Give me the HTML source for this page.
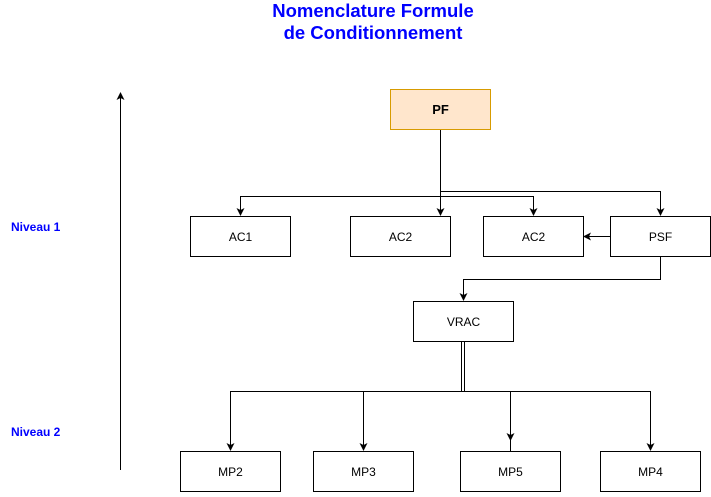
<!DOCTYPE html>
<html><head><style>body{margin:0;background:#fff}</style></head><body>
<svg width="711" height="492" xmlns="http://www.w3.org/2000/svg" font-family="Liberation Sans, sans-serif">
<defs><marker id="a" markerWidth="8" markerHeight="8" refX="7" refY="4" orient="auto" markerUnits="userSpaceOnUse"><path d="M0,0 L8,4 L0,8 L2,4 z" fill="#000"/></marker></defs>
<text x="373" y="17" text-anchor="middle" font-size="18.5" font-weight="bold" fill="#0000ff">Nomenclature Formule</text>
<text x="373" y="39" text-anchor="middle" font-size="18.5" font-weight="bold" fill="#0000ff">de Conditionnement</text>
<text x="11" y="231" font-size="12" font-weight="bold" fill="#0000ff">Niveau 1</text>
<text x="11" y="436" font-size="12" font-weight="bold" fill="#0000ff">Niveau 2</text>
<g stroke="#000" fill="none" stroke-width="1">
<line x1="120.5" y1="470" x2="120.5" y2="93" marker-end="url(#a)"/>
<line x1="440.5" y1="129" x2="440.5" y2="215" marker-end="url(#a)"/>
<polyline points="440.5,196.5 240.5,196.5 240.5,215" marker-end="url(#a)"/>
<polyline points="440.5,196.5 533.5,196.5 533.5,215" marker-end="url(#a)"/>
<polyline points="440.5,191.5 660.5,191.5 660.5,215" marker-end="url(#a)"/>
<line x1="610" y1="236.5" x2="584" y2="236.5" marker-end="url(#a)"/>
<polyline points="660.5,256 660.5,279.5 463.5,279.5 463.5,300" marker-end="url(#a)"/>
<line x1="461.5" y1="341" x2="461.5" y2="391"/>
<line x1="464.5" y1="341" x2="464.5" y2="391"/>
<polyline points="230.5,391.5 650.5,391.5 650.5,450" marker-end="url(#a)"/>
<line x1="230.5" y1="391" x2="230.5" y2="450" marker-end="url(#a)"/>
<line x1="363.5" y1="391" x2="363.5" y2="450" marker-end="url(#a)"/>
<line x1="510.5" y1="391" x2="510.5" y2="440" marker-end="url(#a)"/>
<line x1="510.5" y1="440" x2="510.5" y2="451"/>
</g>
<rect x="390.5" y="89.5" width="100" height="40" fill="#ffe6cc" stroke="#d79b00"/>
<text x="440.5" y="114" text-anchor="middle" font-size="13" font-weight="bold">PF</text>
<g fill="#fff" stroke="#000">
<rect x="190.5" y="216.5" width="100" height="40"/>
<rect x="350.5" y="216.5" width="100" height="40"/>
<rect x="483.5" y="216.5" width="100" height="40"/>
<rect x="610.5" y="216.5" width="100" height="40"/>
<rect x="413.5" y="301.5" width="100" height="40"/>
<rect x="180.5" y="451.5" width="100" height="40"/>
<rect x="313.5" y="451.5" width="100" height="40"/>
<rect x="460.5" y="451.5" width="100" height="40"/>
<rect x="600.5" y="451.5" width="100" height="40"/>
</g>
<g font-size="12" text-anchor="middle">
<text x="240.5" y="241">AC1</text>
<text x="400.5" y="241">AC2</text>
<text x="533.5" y="241">AC2</text>
<text x="660.5" y="241">PSF</text>
<text x="463.5" y="326">VRAC</text>
<text x="230.5" y="476">MP2</text>
<text x="363.5" y="476">MP3</text>
<text x="510.5" y="476">MP5</text>
<text x="650.5" y="476">MP4</text>
</g>
</svg>
</body></html>
